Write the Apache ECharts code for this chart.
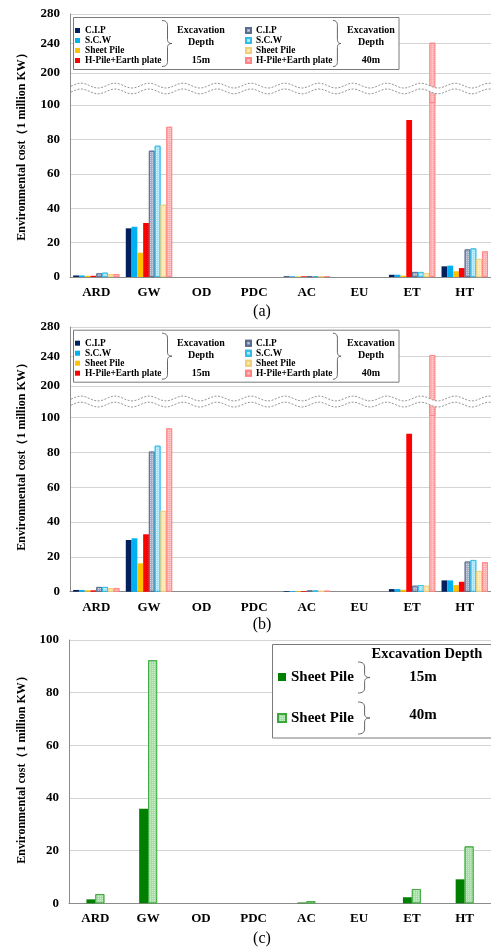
<!DOCTYPE html>
<html><head><meta charset="utf-8">
<script src="https://cdn.jsdelivr.net/npm/echarts@6/dist/echarts.min.js"></script>
<style>html,body{margin:0;padding:0;background:#fff}#c{width:491px;height:947px}</style>
</head><body><div id="c"></div>
<script>
// ---------- data ----------
const categories = ['ARD', 'GW', 'OD', 'PDC', 'AC', 'EU', 'ET', 'HT'];
const methods = ['C.I.P', 'S.C.W', 'Sheet Pile', 'H-Pile+Earth plate'];
const depths = ['15m', '40m'];
const yTitle = 'Environmental cost（1 million KW）';
const captions = ['(a)', '(b)', '(c)'];
const lowerTicksAB = [0, 20, 40, 60, 80, 100];
const upperTicksAB = [200, 240, 280];
const ticksC = [0, 20, 40, 60, 80, 100];

// panel (a)
const a_CIP_15 = [0.9, 28.3, 0, 0, 0.4, 0, 1.3, 6.2];
const a_SCW_15 = [0.9, 29.2, 0, 0, 0.4, 0, 1.3, 6.6];
const a_SP_15  = [0.7, 14.1, 0, 0, 0.3, 0, 0.8, 3.3];
const a_HP_15  = [0.7, 31.4, 0, 0, 0.4, 0, 91.3, 5.2];
const a_CIP_40 = [2.1, 73.4, 0, 0, 0.5, 0, 2.9, 16.0];
const a_SCW_40 = [2.5, 76.3, 0, 0, 0.5, 0, 2.9, 16.6];
const a_SP_40  = [1.7, 42.0, 0, 0, 0.4, 0, 2.3, 10.5];
const a_HP_40  = [1.7, 87.3, 0, 0, 0.5, 0, 241, 14.9];
// panel (b)
const b_CIP_15 = [1.0, 29.7, 0, 0, 0.4, 0, 1.5, 6.5];
const b_SCW_15 = [1.0, 30.7, 0, 0, 0.4, 0, 1.5, 6.5];
const b_SP_15  = [0.8, 16.3, 0, 0, 0.3, 0, 1.1, 3.8];
const b_HP_15  = [0.8, 33.0, 0, 0, 0.4, 0, 90.8, 5.7];
const b_CIP_40 = [2.7, 80.5, 0, 0, 0.7, 0, 3.4, 17.3];
const b_SCW_40 = [2.7, 83.9, 0, 0, 0.7, 0, 3.8, 18.2];
const b_SP_40  = [2.0, 46.4, 0, 0, 0.4, 0, 3.4, 11.9];
const b_HP_40  = [2.1, 93.9, 0, 0, 0.5, 0, 242, 16.9];
// panel (c)
const c_SP_15 = [1.5, 35.9, 0, 0, 0.3, 0, 2.3, 9.1];
const c_SP_40 = [3.5, 92.3, 0, 0, 0.8, 0, 5.4, 21.6];

// ---------- styling ----------
const SERIF = "'Liberation Serif','Times New Roman',serif";
const fill15 = ['#002060', '#00b0f0', '#ffc000', '#ff0000'];
const fill40 = ['#a3aec6', '#a6e5fa', '#ffe7a4', '#ffb0b0'];
const edge40 = ['#5b6b8e', '#2fbde8', '#f0cf78', '#ff8484'];
const greens = {f15: '#008000', f40: '#a6dca6', e40: '#3aa93a'};
const decal40 = {symbol: 'rect', symbolSize: 1, dashArrayX: [1, 1], dashArrayY: [1, 1], color: 'rgba(255,255,255,0.45)'};

const panels = [
  {key: 'a', data15: [a_CIP_15, a_SCW_15, a_SP_15, a_HP_15], data40: [a_CIP_40, a_SCW_40, a_SP_40, a_HP_40],
   upTop: 14, upH: 88.5, loTop: 87.8, loH: 189.2, waveY1: 85.6, waveY2: 91.4, boxTop: 17.5, titleY: 144, capY: 312},
  {key: 'b', data15: [b_CIP_15, b_SCW_15, b_SP_15, b_HP_15], data40: [b_CIP_40, b_SCW_40, b_SP_40, b_HP_40],
   upTop: 327, upH: 88.5, loTop: 400.3, loH: 191.4, waveY1: 398.5, waveY2: 404.6, boxTop: 330.2, titleY: 454, capY: 625}
];
const UP_MIN = 160, UP_MAX = 280, LO_MAX = 110;

const grids = [], xAxes = [], yAxes = [], series = [], legends = [], graphics = [];
const axisLineStyle = {color: '#8c8c8c', width: 1};
const splitStyle = {color: '#d4d4d4', width: 1};
const labelStyle = {color: '#000', fontFamily: SERIF, fontWeight: 'bold', fontSize: 13};
const legendLabel = n => n.split('|')[1];
const shown = v => (v === 0 ? '-' : v);   // zero-valued cells draw no bar

function addGrid(top, height, left) {
  grids.push({left: left, right: -4, top: top, height: height, containLabel: false});
  return grids.length - 1;
}
function waveY(x, yc, phase) { return yc + 2.4 * Math.sin((x - phase) / 34 * 2 * Math.PI); }
function quad(p0, p1, p2, out) {
  for (let i = 0; i <= 8; i++) {
    const t = i / 8, u = 1 - t;
    out.push([u * u * p0[0] + 2 * u * t * p1[0] + t * t * p2[0], u * u * p0[1] + 2 * u * t * p1[1] + t * t * p2[1]]);
  }
}
function brace(x, y1, y2, w) {
  const ym = (y1 + y2) / 2, xm = x + w * 0.55, pts = [];
  quad([x, y1], [xm, y1], [xm, y1 + 5], pts);
  quad([xm, ym - 4], [xm, ym], [x + w, ym], pts);
  quad([x + w, ym], [xm, ym], [xm, ym + 4], pts);
  quad([xm, y2 - 5], [xm, y2], [x, y2], pts);
  return {type: 'polyline', z: 6, shape: {points: pts}, style: {stroke: '#555', lineWidth: 0.9, fill: null}};
}
function yTitleText(yc) {
  return {type: 'text', z: 6, x: 22, y: yc, rotation: Math.PI / 2,
    style: {text: yTitle, font: 'bold 12px ' + SERIF, fill: '#000', align: 'center', verticalAlign: 'middle'}};
}
function caption(t, y) {
  return {type: 'text', z: 6, x: 262, y: y, style: {text: t, font: '16px ' + SERIF, fill: '#000', align: 'center', verticalAlign: 'middle'}};
}

panels.forEach((p, pi) => {
  const gU = addGrid(p.upTop, p.upH, 70);
  const gL = addGrid(p.loTop, p.loH, 70);
  xAxes.push({gridIndex: gU, type: 'category', data: categories, show: false});
  xAxes.push({gridIndex: gL, type: 'category', data: categories,
    axisLine: {lineStyle: axisLineStyle}, axisTick: {show: false},
    axisLabel: Object.assign({margin: 9}, labelStyle)});
  yAxes.push({gridIndex: gU, type: 'value', min: UP_MIN, max: UP_MAX, interval: 40,
    axisLine: {show: true, lineStyle: axisLineStyle}, axisTick: {show: false},
    axisLabel: Object.assign({margin: 10, showMinLabel: false,
      formatter: v => upperTicksAB.includes(v) ? String(v) : ''}, labelStyle),
    splitLine: {show: true, showMinLine: false, lineStyle: splitStyle}});
  yAxes.push({gridIndex: gL, type: 'value', min: 0, max: LO_MAX, interval: 20,
    axisLine: {show: true, lineStyle: axisLineStyle}, axisTick: {show: false},
    axisLabel: Object.assign({margin: 10, showMaxLabel: false,
      formatter: v => lowerTicksAB.includes(v) ? String(v) : ''}, labelStyle),
    splitLine: {show: true, showMaxLine: false, lineStyle: splitStyle}});
  const xU = xAxes.length - 2, xL = xAxes.length - 1, yU = yAxes.length - 2, yL = yAxes.length - 1;
  const names15 = methods.map(m => p.key + '|' + m + '|15m');
  const names40 = methods.map(m => p.key + '|' + m + '|40m');
  [[xL, yL, false], [xU, yU, true]].forEach(([xi, yi, upper]) => {
    const mk = (name, vals, style) => ({
      type: 'bar', name: name, xAxisIndex: xi, yAxisIndex: yi,
      data: upper ? vals.map(v => v > UP_MIN ? v : '-') : vals.map(shown),
      barGap: '0%', barCategoryGap: '12%', clip: true, itemStyle: style,
      emphasis: {disabled: true}, animation: false
    });
    p.data15.forEach((vals, k) => series.push(mk(names15[k], vals, {color: fill15[k]})));
    p.data40.forEach((vals, k) => series.push(mk(names40[k], vals, {
      color: fill40[k], borderColor: edge40[k], borderWidth: 0.8, decal: decal40})));
  });
  const legStyle = {fontFamily: SERIF, fontWeight: 'bold', fontSize: 9.4, color: '#000', lineHeight: 10};
  legends.push({data: names15, orient: 'vertical', left: 75, top: p.boxTop + 8, itemGap: 0, itemWidth: 5, itemHeight: 5,
    icon: 'rect', padding: 0, textStyle: legStyle, formatter: legendLabel, selectedMode: false});
  legends.push({data: names40, orient: 'vertical', left: 245, top: p.boxTop + 8, itemGap: 0, itemWidth: 5, itemHeight: 5,
    icon: 'rect', padding: 0, textStyle: legStyle, formatter: legendLabel, selectedMode: false});
  const bt = p.boxTop;
  graphics.push({type: 'rect', z: 3, shape: {x: 73.5, y: bt, width: 325.5, height: 52},
    style: {fill: '#fff', stroke: '#7a7a7a', lineWidth: 1}});
  const braceTxt = (x, txt) => [
    {type: 'text', z: 6, x: x, y: bt + 13, style: {text: 'Excavation', font: 'bold 10px ' + SERIF, fill: '#000', align: 'center', verticalAlign: 'middle'}},
    {type: 'text', z: 6, x: x, y: bt + 25, style: {text: 'Depth', font: 'bold 10px ' + SERIF, fill: '#000', align: 'center', verticalAlign: 'middle'}},
    {type: 'text', z: 6, x: x, y: bt + 43, style: {text: txt, font: 'bold 10px ' + SERIF, fill: '#000', align: 'center', verticalAlign: 'middle'}}
  ];
  graphics.push(...braceTxt(201, depths[0]), ...braceTxt(371, depths[1]));
  graphics.push(brace(162, bt + 3, bt + 49, 10), brace(333, bt + 3, bt + 49, 8));
  const pts1 = [], pts2 = [];
  for (let x = 71; x <= 495; x += 1) { pts1.push([x, waveY(x, p.waveY1, 429.5)]); pts2.push([x, waveY(x, p.waveY2, 429.5)]); }
  graphics.push({type: 'polygon', z: 50, shape: {points: pts1.concat(pts2.slice().reverse())}, style: {fill: '#fff', stroke: null}});
  graphics.push({type: 'polyline', z: 51, shape: {points: pts1}, style: {stroke: '#8a8a8a', lineWidth: 0.9, lineDash: [2, 1.5], fill: null}});
  graphics.push({type: 'polyline', z: 51, shape: {points: pts2}, style: {stroke: '#8a8a8a', lineWidth: 0.9, lineDash: [2, 1.5], fill: null}});
  graphics.push(yTitleText(p.titleY));
  graphics.push(caption(captions[pi], p.capY));
});

// ---------- panel (c) ----------
{
  const g = addGrid(640, 263.3, 69);
  xAxes.push({gridIndex: g, type: 'category', data: categories,
    axisLine: {lineStyle: axisLineStyle}, axisTick: {show: false},
    axisLabel: Object.assign({margin: 9}, labelStyle)});
  yAxes.push({gridIndex: g, type: 'value', min: 0, max: 100, interval: 20,
    axisLine: {show: true, lineStyle: axisLineStyle}, axisTick: {show: false},
    axisLabel: Object.assign({margin: 10, formatter: v => ticksC.includes(v) ? String(v) : ''}, labelStyle),
    splitLine: {show: true, lineStyle: splitStyle}});
  const xi = xAxes.length - 1, yi = yAxes.length - 1;
  const cNames = ['c|Sheet Pile|15m', 'c|Sheet Pile|40m'];
  series.push({type: 'bar', name: cNames[0], xAxisIndex: xi, yAxisIndex: yi, data: c_SP_15.map(shown),
    barGap: '0%', barCategoryGap: '66%', itemStyle: {color: greens.f15}, animation: false});
  series.push({type: 'bar', name: cNames[1], xAxisIndex: xi, yAxisIndex: yi, data: c_SP_40.map(shown),
    barGap: '0%', barCategoryGap: '66%', animation: false,
    itemStyle: {color: greens.f40, borderColor: greens.e40, borderWidth: 0.8, decal: decal40}});
  legends.push({data: cNames, orient: 'vertical', left: 277, top: 669, itemGap: 25,
    itemWidth: 8, itemHeight: 8, icon: 'rect', padding: 0, selectedMode: false,
    formatter: legendLabel,
    textStyle: {fontFamily: SERIF, fontWeight: 'bold', fontSize: 15, color: '#000', lineHeight: 16}});
  graphics.push({type: 'rect', z: 3, shape: {x: 272.5, y: 644.5, width: 240, height: 93.5},
    style: {fill: '#fff', stroke: '#7a7a7a', lineWidth: 1}});
  graphics.push({type: 'text', z: 6, x: 427, y: 654.5, style: {text: 'Excavation Depth', font: 'bold 14.5px ' + SERIF, fill: '#000', align: 'center', verticalAlign: 'middle'}});
  graphics.push({type: 'text', z: 6, x: 423, y: 677, style: {text: depths[0], font: 'bold 15px ' + SERIF, fill: '#000', align: 'center', verticalAlign: 'middle'}});
  graphics.push({type: 'text', z: 6, x: 423, y: 715, style: {text: depths[1], font: 'bold 15px ' + SERIF, fill: '#000', align: 'center', verticalAlign: 'middle'}});
  graphics.push(brace(358, 662, 693, 12), brace(358, 702, 734, 12));
  graphics.push(yTitleText(767));
  graphics.push(caption(captions[2], 939));
}

const chart = echarts.init(document.getElementById('c'), null, {renderer: 'canvas'});
chart.setOption({
  animation: false,
  backgroundColor: '#fff',
  grid: grids, xAxis: xAxes, yAxis: yAxes, series: series, legend: legends,
  tooltip: {show: false},
  graphic: {elements: graphics}
});
</script></body></html>
